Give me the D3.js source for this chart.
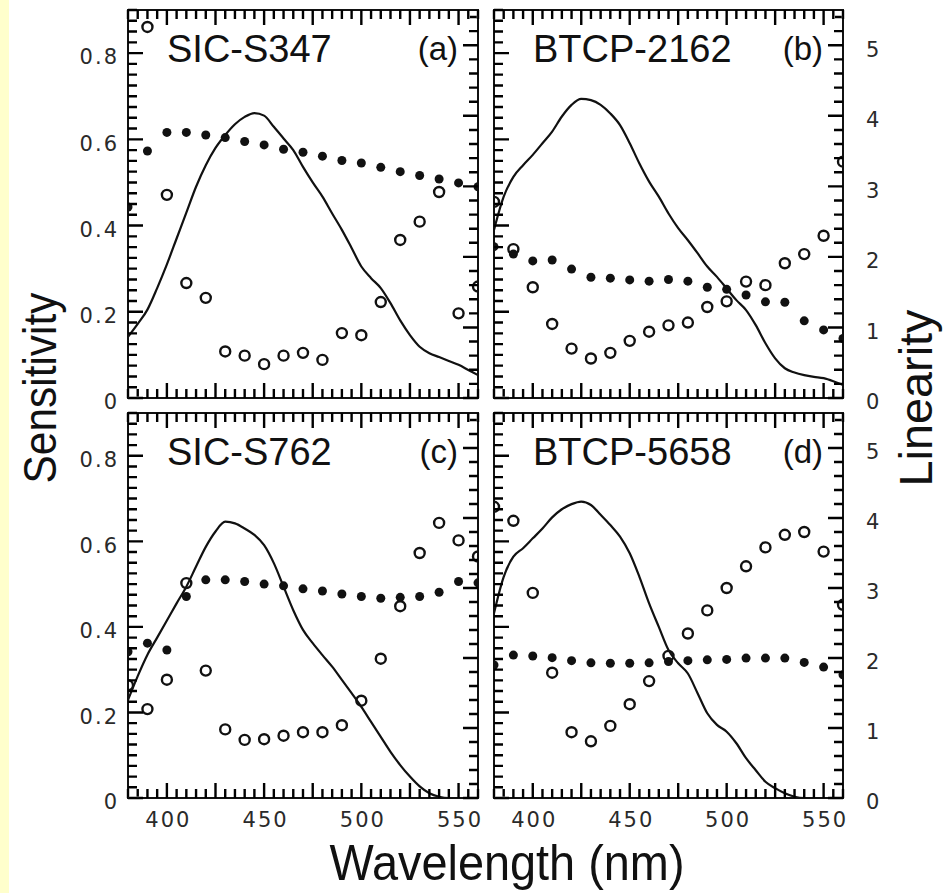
<!DOCTYPE html>
<html>
<head>
<meta charset="utf-8">
<script src="https://cdn.jsdelivr.net/npm/d3@7"></script>
<style>
  html, body { margin: 0; padding: 0; background: #fff; }
  svg { display: block; }
</style>
</head>
<body>
<svg id="chart"></svg>
<script>
// Measurement wavelengths (nm) for the point series
const wavelengths = [380, 390, 400, 410, 420, 430, 440, 450, 460, 470,
  480, 490, 500, 510, 520, 530, 540, 550, 560];
// Wavelengths (nm) for the solid spectral curve
const curveWavelengths = [380, 385, 390, 395, 400, 405, 410, 415, 420, 425,
  430, 435, 440, 445, 450, 455, 460, 465, 470, 475, 480, 485, 490, 495,
  500, 505, 510, 515, 520, 525, 530, 535, 540, 545, 550, 555, 560];

const panelNames = ['SIC-S347', 'BTCP-2162', 'SIC-S762', 'BTCP-5658'];
const panelTags = ['(a)', '(b)', '(c)', '(d)'];
const sensitivityTicks = [0, 0.2, 0.4, 0.6, 0.8];
const linearityTicks = [0, 1, 2, 3, 4, 5];
const wavelengthTicks = [400, 450, 500, 550];

// (a) SIC-S347
const s347Curve = [0.142, 0.172, 0.205, 0.255, 0.310, 0.370, 0.430, 0.490,
  0.540, 0.580, 0.610, 0.635, 0.652, 0.661, 0.655, 0.629, 0.602, 0.575,
  0.536, 0.500, 0.467, 0.428, 0.390, 0.348, 0.305, 0.278, 0.255, 0.220,
  0.180, 0.146, 0.119, 0.104, 0.095, 0.086, 0.077, 0.065, 0.053];
const s347Sensitivity = [0.443, 0.573, 0.616, 0.616, 0.610, 0.604, 0.595,
  0.587, 0.577, 0.570, 0.561, 0.551, 0.545, 0.535, 0.525, 0.516, 0.508,
  0.499, 0.490];
const s347Linearity = [null, 5.26, 2.88, 1.63, 1.42, 0.66, 0.60, 0.48, 0.60,
  0.64, 0.54, 0.92, 0.89, 1.36, 2.24, 2.50, 2.92, 1.20, 1.58];

// (b) BTCP-2162
const b2162Curve = [0.390, 0.467, 0.513, 0.540, 0.564, 0.591, 0.618, 0.653,
  0.680, 0.694, 0.691, 0.680, 0.660, 0.633, 0.591, 0.544, 0.502, 0.467,
  0.428, 0.394, 0.366, 0.336, 0.305, 0.281, 0.254, 0.227, 0.204, 0.169,
  0.127, 0.092, 0.069, 0.059, 0.053, 0.049, 0.046, 0.039, 0.030];
const b2162Sensitivity = [0.351, 0.334, 0.318, 0.320, 0.299, 0.280, 0.278,
  0.274, 0.271, 0.275, 0.271, 0.257, 0.252, 0.239, 0.223, 0.222, 0.179,
  0.158, 0.138];
const b2162Linearity = [2.78, 2.11, 1.57, 1.05, 0.70, 0.56, 0.64, 0.81, 0.94,
  1.03, 1.07, 1.29, 1.37, 1.65, 1.60, 1.91, 2.04, 2.30, 3.35];

// (c) SIC-S762
const s762Curve = [0.229, 0.285, 0.335, 0.375, 0.415, 0.455, 0.494, 0.541,
  0.587, 0.623, 0.646, 0.642, 0.630, 0.615, 0.591, 0.549, 0.494, 0.439,
  0.393, 0.362, 0.334, 0.307, 0.276, 0.245, 0.213, 0.178, 0.143, 0.108,
  0.077, 0.050, 0.027, 0.011, 0.003, 0, 0, 0, 0];
const s762Sensitivity = [0.342, 0.362, 0.346, 0.471, 0.510, 0.510, 0.506,
  0.500, 0.496, 0.489, 0.484, 0.477, 0.471, 0.467, 0.469, 0.471, 0.481,
  0.506, 0.503];
const s762Linearity = [1.61, 1.27, 1.69, 3.07, 1.82, 0.98, 0.83, 0.84, 0.89,
  0.94, 0.94, 1.04, 1.39, 1.99, 2.74, 3.50, 3.93, 3.68, 3.45];

// (d) BTCP-5658
const b5658Curve = [0.432, 0.517, 0.564, 0.584, 0.607, 0.630, 0.656, 0.675,
  0.687, 0.693, 0.685, 0.662, 0.638, 0.611, 0.572, 0.517, 0.455, 0.400,
  0.346, 0.315, 0.291, 0.245, 0.198, 0.171, 0.155, 0.128, 0.093, 0.065,
  0.038, 0.023, 0.011, 0.003, 0, 0, 0, 0, 0];
const b5658Sensitivity = [0.311, 0.334, 0.332, 0.328, 0.321, 0.316, 0.315,
  0.315, 0.316, 0.319, 0.321, 0.323, 0.324, 0.327, 0.327, 0.327, 0.317,
  0.306, 0.288];
const b5658Linearity = [4.16, 3.96, 2.93, 1.79, 0.94, 0.81, 1.03, 1.34, 1.67,
  2.03, 2.35, 2.68, 3.00, 3.31, 3.58, 3.76, 3.80, 3.52, 2.76];

const curves = [s347Curve, b2162Curve, s762Curve, b5658Curve];
const sensitivities = [s347Sensitivity, b2162Sensitivity, s762Sensitivity,
  b5658Sensitivity];
const linearities = [s347Linearity, b2162Linearity, s762Linearity,
  b5658Linearity];

const width = 947;
const height = 893;
// panel pixel boxes: columns [left, right], rows [bottom, top]
const cols = [[128, 478], [494, 843]];
const rows = [[398, 10], [798, 413]];
const tickFont = '"DejaVu Sans", sans-serif';
const textFont = '"Liberation Sans", Arial, sans-serif';
const ink = '#111';

function panelScales(i) {
  const d3 = window.d3;
  const [x0, x1] = cols[i % 2];
  const [yb, yt] = rows[Math.floor(i / 2)];
  return {
    x0, x1, yb, yt,
    x: d3.scaleLinear().domain([380, 560]).range([x0, x1]),
    yS: d3.scaleLinear().domain([0, 0.9]).range([yb, yt]),
    yL: d3.scaleLinear().domain([0, 5.5]).range([yb, yt]),
  };
}

function drawPanel(svg, i) {
  const d3 = window.d3;
  const col = i % 2;
  const row = Math.floor(i / 2);
  const {x0, x1, yb, yt, x, yS, yL} = panelScales(i);

  const g = svg.append('g');

  svg.append('clipPath').attr('id', 'clip' + i)
      .append('rect')
      .attr('x', x0).attr('y', yt)
      .attr('width', x1 - x0).attr('height', yb - yt);

  // Tick labels
  const labels = (axis, tx, ty) =>
      g.append('g')
          .attr('transform', `translate(${tx},${ty})`)
          .call(axis)
          .call((s) => s.select('.domain').remove())
          .call((s) => s.selectAll('.tick line').remove())
          .call((s) => s.selectAll('text')
              .attr('font-family', tickFont)
              .attr('font-size', 21)
              .attr('letter-spacing', 2)
              .attr('fill', '#2a2a2a'));

  if (col === 0) {
    labels(d3.axisLeft(yS).tickValues(sensitivityTicks).tickSize(0)
        .tickPadding(9)
        .tickFormat((d) => d === 0 ? '0' : d3.format('.1f')(d)), x0, 4);
  } else {
    labels(d3.axisRight(yL).tickValues(linearityTicks).tickSize(0)
        .tickPadding(23).tickFormat(d3.format('d')), x1, 4);
  }
  if (row === 1) {
    labels(d3.axisBottom(x).tickValues(wavelengthTicks).tickSize(0)
        .tickPadding(14).tickFormat(d3.format('d')), 1, yb);
  }

  const plot = g.append('g').attr('clip-path', `url(#clip${i})`);

  // Spectral curve
  const line = d3.line()
      .x((d, k) => x(curveWavelengths[k]))
      .y((d) => yS(d))
      .curve(d3.curveMonotoneX);
  plot.append('path')
      .datum(curves[i])
      .attr('d', line)
      .attr('fill', 'none')
      .attr('stroke', ink)
      .attr('stroke-width', 2.2);

  // Filled points: sensitivity
  plot.append('g')
      .selectAll('circle')
      .data(sensitivities[i].map((v, k) => [wavelengths[k], v])
          .filter((d) => d[1] !== null))
      .join('circle')
      .attr('cx', (d) => x(d[0]))
      .attr('cy', (d) => yS(d[1]))
      .attr('r', 4.5)
      .attr('fill', ink);

  // Open points: linearity
  plot.append('g')
      .selectAll('circle')
      .data(linearities[i].map((v, k) => [wavelengths[k], v])
          .filter((d) => d[1] !== null))
      .join('circle')
      .attr('cx', (d) => x(d[0]))
      .attr('cy', (d) => yL(d[1]))
      .attr('r', 5)
      .attr('fill', 'none')
      .attr('stroke', ink)
      .attr('stroke-width', 2.4);

  // Frame
  g.append('rect')
      .attr('x', x0).attr('y', yt)
      .attr('width', x1 - x0).attr('height', yb - yt)
      .attr('fill', 'none')
      .attr('stroke', ink)
      .attr('stroke-width', 2);

  // Panel name and tag
  g.append('text')
      .attr('x', x0 + 39)
      .attr('y', yt + 52)
      .attr('font-family', textFont)
      .attr('font-size', 38)
      .attr('fill', ink)
      .text(panelNames[i]);
  g.append('text')
      .attr('x', x1 - 20)
      .attr('y', yt + 50)
      .attr('text-anchor', 'end')
      .attr('font-family', textFont)
      .attr('font-size', 33)
      .attr('fill', ink)
      .text(panelTags[i]);
}

// Inward tick marks on all four sides of a panel, drawn as filled
// polygons: every 5 nm (long every 25 nm), sensitivity every 0.025
// (long every 0.2), linearity every 0.2 (long every 1)
function drawTicks(svg, i) {
  const d3 = window.d3;
  const {x0, x1, yb, yt, x, yS, yL} = panelScales(i);
  const xMinor = d3.range(380, 561, 5);
  const sMinor = d3.range(0, 37).map((k) => k * 0.025);
  const lMinor = d3.range(0, 28).map((k) => k * 0.2);
  const longX = (d) => d % 25 === 0;
  const longS = (d) => Math.abs(d * 5 - Math.round(d * 5)) < 1e-6;
  const longL = (d) => Math.abs(d - Math.round(d)) < 1e-6;
  const w = 1.2;

  const p = d3.path();
  const vTick = (cx, y0, dy) => {
    p.moveTo(cx - w, y0); p.lineTo(cx + w, y0);
    p.lineTo(cx + w, y0 + dy); p.lineTo(cx - w, y0 + dy); p.closePath();
  };
  const hTick = (cy, x0_, dx) => {
    p.moveTo(x0_, cy - w); p.lineTo(x0_ + dx, cy - w);
    p.lineTo(x0_ + dx, cy + w); p.lineTo(x0_, cy + w); p.closePath();
  };
  xMinor.forEach((d) => {
    const len = longX(d) ? 15 : 9;
    vTick(x(d), yb, -len);
    vTick(x(d), yt, len);
  });
  sMinor.forEach((d) => hTick(yS(d), x0, longS(d) ? 15 : 9));
  lMinor.forEach((d) => hTick(yL(d), x1, longL(d) ? -15 : -9));

  svg.append('path')
      .attr('d', p.toString())
      .attr('fill', '#000')
      .attr('stroke', 'none');
}

function drawChart() {
  const d3 = window.d3;
  const svg = d3.select('#chart')
      .attr('width', width)
      .attr('height', height)
      .attr('viewBox', [0, 0, width, height]);

  svg.append('rect').attr('width', width).attr('height', height)
      .attr('fill', '#fff');
  // pale yellow strip on the left edge
  svg.append('rect').attr('x', 0).attr('y', 0)
      .attr('width', 9).attr('height', height)
      .attr('fill', '#ffffcc');

  for (let i = 0; i < 4; i++) drawPanel(svg, i);
  for (let i = 0; i < 4; i++) drawTicks(svg, i);

  // Axis titles
  svg.append('text')
      .attr('transform', 'translate(56,388) rotate(-90)')
      .attr('text-anchor', 'middle')
      .attr('font-family', textFont)
      .attr('font-size', 47)
      .attr('textLength', 191)
      .attr('lengthAdjust', 'spacingAndGlyphs')
      .attr('fill', ink)
      .text('Sensitivity');
  svg.append('text')
      .attr('transform', 'translate(932,398) rotate(-90)')
      .attr('text-anchor', 'middle')
      .attr('font-family', textFont)
      .attr('font-size', 47)
      .attr('textLength', 177)
      .attr('lengthAdjust', 'spacingAndGlyphs')
      .attr('fill', ink)
      .text('Linearity');
  svg.append('text')
      .attr('x', 507)
      .attr('y', 880)
      .attr('text-anchor', 'middle')
      .attr('font-family', textFont)
      .attr('font-size', 50)
      .attr('textLength', 355)
      .attr('lengthAdjust', 'spacingAndGlyphs')
      .attr('fill', ink)
      .text('Wavelength (nm)');
}

drawChart();
</script>
</body>
</html>
